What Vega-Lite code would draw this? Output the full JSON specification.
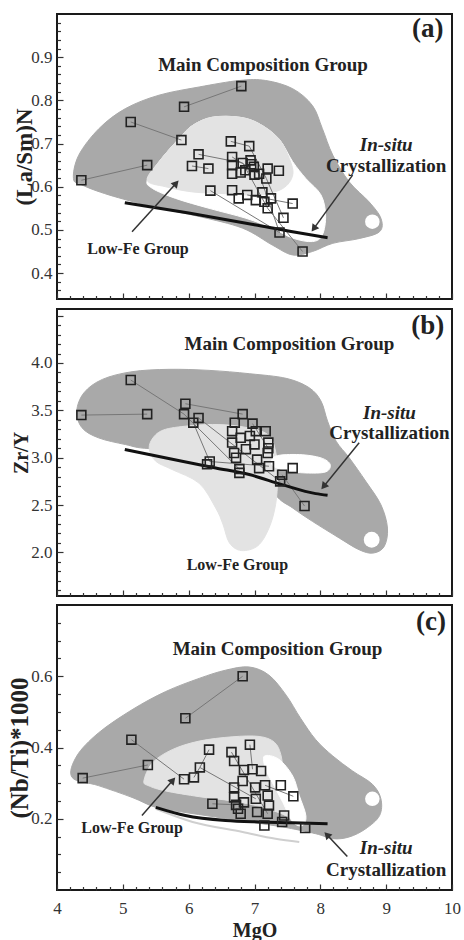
{
"$schema": "https://vega.github.io/schema/vega-lite/v6.json",
"background": "white",
"padding": {"left": 6, "top": 12, "right": 8, "bottom": 0},
"spacing": 4,
"datasets": {
"poly": [
{"p":"a","s":"main","i":1,"x":4.25,"y":0.619},{"p":"a","s":"main","i":2,"x":4.33,"y":0.673},{"p":"a","s":"main","i":3,"x":4.64,"y":0.735},{"p":"a","s":"main","i":4,"x":5.04,"y":0.781},{"p":"a","s":"main","i":5,"x":5.55,"y":0.812},{"p":"a","s":"main","i":6,"x":6.16,"y":0.831},{"p":"a","s":"main","i":7,"x":6.77,"y":0.846},{"p":"a","s":"main","i":8,"x":7.17,"y":0.846},{"p":"a","s":"main","i":9,"x":7.58,"y":0.827},{"p":"a","s":"main","i":10,"x":7.88,"y":0.788},{"p":"a","s":"main","i":11,"x":8.03,"y":0.735},{"p":"a","s":"main","i":12,"x":8.19,"y":0.673},{"p":"a","s":"main","i":13,"x":8.44,"y":0.611},{"p":"a","s":"main","i":14,"x":8.74,"y":0.565},{"p":"a","s":"main","i":15,"x":8.92,"y":0.527},{"p":"a","s":"main","i":16,"x":8.90,"y":0.496},{"p":"a","s":"main","i":17,"x":8.59,"y":0.480},{"p":"a","s":"main","i":18,"x":8.19,"y":0.469},{"p":"a","s":"main","i":19,"x":7.88,"y":0.450},{"p":"a","s":"main","i":20,"x":7.58,"y":0.442},{"p":"a","s":"main","i":21,"x":7.27,"y":0.465},{"p":"a","s":"main","i":22,"x":6.82,"y":0.504},{"p":"a","s":"main","i":23,"x":6.16,"y":0.531},{"p":"a","s":"main","i":24,"x":5.45,"y":0.554},{"p":"a","s":"main","i":25,"x":4.79,"y":0.581},{"p":"a","s":"main","i":26,"x":4.38,"y":0.604},
{"p":"a","s":"white","i":1,"x":5.37,"y":0.615},{"p":"a","s":"white","i":2,"x":5.55,"y":0.658},{"p":"a","s":"white","i":3,"x":5.85,"y":0.711},{"p":"a","s":"white","i":4,"x":6.06,"y":0.742},{"p":"a","s":"white","i":5,"x":6.36,"y":0.761},{"p":"a","s":"white","i":6,"x":6.77,"y":0.761},{"p":"a","s":"white","i":7,"x":7.07,"y":0.746},{"p":"a","s":"white","i":8,"x":7.37,"y":0.711},{"p":"a","s":"white","i":9,"x":7.58,"y":0.658},{"p":"a","s":"white","i":10,"x":7.78,"y":0.619},{"p":"a","s":"white","i":11,"x":8.01,"y":0.581},{"p":"a","s":"white","i":12,"x":8.08,"y":0.534},{"p":"a","s":"white","i":13,"x":8.03,"y":0.488},{"p":"a","s":"white","i":14,"x":7.88,"y":0.473},{"p":"a","s":"white","i":15,"x":7.58,"y":0.481},{"p":"a","s":"white","i":16,"x":7.27,"y":0.504},{"p":"a","s":"white","i":17,"x":6.87,"y":0.527},{"p":"a","s":"white","i":18,"x":6.31,"y":0.550},{"p":"a","s":"white","i":19,"x":5.80,"y":0.573},{"p":"a","s":"white","i":20,"x":5.45,"y":0.596},
{"p":"a","s":"light","i":1,"x":5.37,"y":0.615},{"p":"a","s":"light","i":2,"x":5.55,"y":0.658},{"p":"a","s":"light","i":3,"x":5.85,"y":0.711},{"p":"a","s":"light","i":4,"x":6.06,"y":0.742},{"p":"a","s":"light","i":5,"x":6.36,"y":0.761},{"p":"a","s":"light","i":6,"x":6.77,"y":0.761},{"p":"a","s":"light","i":7,"x":7.07,"y":0.746},{"p":"a","s":"light","i":8,"x":7.37,"y":0.711},{"p":"a","s":"light","i":9,"x":7.53,"y":0.665},{"p":"a","s":"light","i":10,"x":7.58,"y":0.627},{"p":"a","s":"light","i":11,"x":7.43,"y":0.596},{"p":"a","s":"light","i":12,"x":7.07,"y":0.581},{"p":"a","s":"light","i":13,"x":6.56,"y":0.584},{"p":"a","s":"light","i":14,"x":6.06,"y":0.588},{"p":"a","s":"light","i":15,"x":5.65,"y":0.600},
{"p":"b","s":"main","i":1,"x":4.30,"y":3.492},{"p":"b","s":"main","i":2,"x":4.41,"y":3.686},{"p":"b","s":"main","i":3,"x":4.69,"y":3.827},{"p":"b","s":"main","i":4,"x":5.14,"y":3.908},{"p":"b","s":"main","i":5,"x":5.70,"y":3.933},{"p":"b","s":"main","i":6,"x":6.31,"y":3.922},{"p":"b","s":"main","i":7,"x":6.92,"y":3.887},{"p":"b","s":"main","i":8,"x":7.48,"y":3.838},{"p":"b","s":"main","i":9,"x":7.83,"y":3.739},{"p":"b","s":"main","i":10,"x":8.01,"y":3.598},{"p":"b","s":"main","i":11,"x":8.11,"y":3.386},{"p":"b","s":"main","i":12,"x":8.24,"y":3.174},{"p":"b","s":"main","i":13,"x":8.44,"y":2.998},{"p":"b","s":"main","i":14,"x":8.69,"y":2.751},{"p":"b","s":"main","i":15,"x":8.92,"y":2.504},{"p":"b","s":"main","i":16,"x":9.02,"y":2.257},{"p":"b","s":"main","i":17,"x":8.97,"y":2.063},{"p":"b","s":"main","i":18,"x":8.80,"y":1.993},{"p":"b","s":"main","i":19,"x":8.59,"y":2.028},{"p":"b","s":"main","i":20,"x":8.29,"y":2.151},{"p":"b","s":"main","i":21,"x":7.88,"y":2.328},{"p":"b","s":"main","i":22,"x":7.58,"y":2.469},{"p":"b","s":"main","i":23,"x":7.32,"y":2.610},{"p":"b","s":"main","i":24,"x":7.07,"y":2.963},{"p":"b","s":"main","i":25,"x":6.31,"y":3.104},{"p":"b","s":"main","i":26,"x":5.40,"y":3.097},{"p":"b","s":"main","i":27,"x":5.04,"y":3.139},{"p":"b","s":"main","i":28,"x":4.63,"y":3.210},{"p":"b","s":"main","i":29,"x":4.38,"y":3.316},
{"p":"b","s":"light","i":1,"x":5.40,"y":3.097},{"p":"b","s":"light","i":2,"x":5.47,"y":3.22},{"p":"b","s":"light","i":3,"x":5.65,"y":3.30},{"p":"b","s":"light","i":4,"x":6.06,"y":3.34},{"p":"b","s":"light","i":5,"x":6.46,"y":3.35},{"p":"b","s":"light","i":6,"x":6.87,"y":3.32},{"p":"b","s":"light","i":7,"x":7.20,"y":3.245},{"p":"b","s":"light","i":8,"x":7.32,"y":3.069},{"p":"b","s":"light","i":9,"x":7.35,"y":2.786},{"p":"b","s":"light","i":10,"x":7.32,"y":2.504},{"p":"b","s":"light","i":11,"x":7.22,"y":2.257},{"p":"b","s":"light","i":12,"x":7.05,"y":2.07},{"p":"b","s":"light","i":13,"x":6.80,"y":2.02},{"p":"b","s":"light","i":14,"x":6.62,"y":2.10},{"p":"b","s":"light","i":15,"x":6.52,"y":2.30},{"p":"b","s":"light","i":16,"x":6.41,"y":2.47},{"p":"b","s":"light","i":17,"x":6.16,"y":2.73},{"p":"b","s":"light","i":18,"x":5.75,"y":2.875},{"p":"b","s":"light","i":19,"x":5.50,"y":2.963},
{"p":"b","s":"hole","i":1,"x":7.32,"y":3.016},{"p":"b","s":"hole","i":2,"x":7.68,"y":3.033},{"p":"b","s":"hole","i":3,"x":8.01,"y":2.998},{"p":"b","s":"hole","i":4,"x":8.15,"y":2.928},{"p":"b","s":"hole","i":5,"x":8.08,"y":2.850},{"p":"b","s":"hole","i":6,"x":7.78,"y":2.839},{"p":"b","s":"hole","i":7,"x":7.48,"y":2.864},{"p":"b","s":"hole","i":8,"x":7.27,"y":2.921},
{"p":"c","s":"main","i":1,"x":4.23,"y":0.316},{"p":"c","s":"main","i":2,"x":4.30,"y":0.376},{"p":"c","s":"main","i":3,"x":4.63,"y":0.441},{"p":"c","s":"main","i":4,"x":5.14,"y":0.506},{"p":"c","s":"main","i":5,"x":5.65,"y":0.557},{"p":"c","s":"main","i":6,"x":6.16,"y":0.594},{"p":"c","s":"main","i":7,"x":6.56,"y":0.617},{"p":"c","s":"main","i":8,"x":6.92,"y":0.626},{"p":"c","s":"main","i":9,"x":7.22,"y":0.603},{"p":"c","s":"main","i":10,"x":7.48,"y":0.547},{"p":"c","s":"main","i":11,"x":7.70,"y":0.482},{"p":"c","s":"main","i":12,"x":7.93,"y":0.422},{"p":"c","s":"main","i":13,"x":8.19,"y":0.376},{"p":"c","s":"main","i":14,"x":8.49,"y":0.334},{"p":"c","s":"main","i":15,"x":8.79,"y":0.297},{"p":"c","s":"main","i":16,"x":8.92,"y":0.256},{"p":"c","s":"main","i":17,"x":8.90,"y":0.209},{"p":"c","s":"main","i":18,"x":8.69,"y":0.172},{"p":"c","s":"main","i":19,"x":8.44,"y":0.149},{"p":"c","s":"main","i":20,"x":8.19,"y":0.144},{"p":"c","s":"main","i":21,"x":7.93,"y":0.158},{"p":"c","s":"main","i":22,"x":7.43,"y":0.177},{"p":"c","s":"main","i":23,"x":6.92,"y":0.191},{"p":"c","s":"main","i":24,"x":6.41,"y":0.205},{"p":"c","s":"main","i":25,"x":5.90,"y":0.219},{"p":"c","s":"main","i":26,"x":5.50,"y":0.232},{"p":"c","s":"main","i":27,"x":5.14,"y":0.260},{"p":"c","s":"main","i":28,"x":4.63,"y":0.293},
{"p":"c","s":"light","i":1,"x":5.32,"y":0.306},{"p":"c","s":"light","i":2,"x":5.45,"y":0.357},{"p":"c","s":"light","i":3,"x":5.75,"y":0.394},{"p":"c","s":"light","i":4,"x":6.16,"y":0.418},{"p":"c","s":"light","i":5,"x":6.66,"y":0.430},{"p":"c","s":"light","i":6,"x":7.07,"y":0.431},{"p":"c","s":"light","i":7,"x":7.30,"y":0.415},{"p":"c","s":"light","i":8,"x":7.40,"y":0.38},{"p":"c","s":"light","i":9,"x":7.45,"y":0.32},{"p":"c","s":"light","i":10,"x":7.55,"y":0.25},{"p":"c","s":"light","i":11,"x":7.60,"y":0.20},{"p":"c","s":"light","i":12,"x":7.40,"y":0.215},{"p":"c","s":"light","i":13,"x":7.07,"y":0.235},{"p":"c","s":"light","i":14,"x":6.66,"y":0.250},{"p":"c","s":"light","i":15,"x":6.16,"y":0.262},{"p":"c","s":"light","i":16,"x":5.65,"y":0.278},{"p":"c","s":"light","i":17,"x":5.40,"y":0.292},
{"p":"c","s":"hole","i":1,"x":7.15,"y":0.376},{"p":"c","s":"hole","i":2,"x":7.37,"y":0.367},{"p":"c","s":"hole","i":3,"x":7.58,"y":0.320},{"p":"c","s":"hole","i":4,"x":7.68,"y":0.265},{"p":"c","s":"hole","i":5,"x":7.78,"y":0.209},{"p":"c","s":"hole","i":6,"x":7.73,"y":0.181},{"p":"c","s":"hole","i":7,"x":7.58,"y":0.191},{"p":"c","s":"hole","i":8,"x":7.43,"y":0.246},{"p":"c","s":"hole","i":9,"x":7.27,"y":0.302},{"p":"c","s":"hole","i":10,"x":7.17,"y":0.339}
],
"dots": [{"p":"a","x":8.79,"y":0.519},{"p":"b","x":8.78,"y":2.134},{"p":"c","x":8.79,"y":0.256}],
"faint": [{"p":"c","i":1,"x":5.50,"y":0.228},{"p":"c","i":2,"x":6.06,"y":0.191},{"p":"c","i":3,"x":6.82,"y":0.163},{"p":"c","i":4,"x":7.32,"y":0.144},{"p":"c","i":5,"x":7.68,"y":0.135}],
"trend": [
{"p":"a","i":1,"x":5.03,"y":0.563},{"p":"a","i":2,"x":6.0,"y":0.539},{"p":"a","i":3,"x":7.0,"y":0.512},{"p":"a","i":4,"x":7.6,"y":0.495},{"p":"a","i":5,"x":8.11,"y":0.482},
{"p":"b","i":1,"x":5.03,"y":3.087},{"p":"b","i":2,"x":5.40,"y":3.034},{"p":"b","i":3,"x":5.90,"y":2.963},{"p":"b","i":4,"x":6.41,"y":2.892},{"p":"b","i":5,"x":6.92,"y":2.822},{"p":"b","i":6,"x":7.42,"y":2.716},{"p":"b","i":7,"x":7.93,"y":2.621},{"p":"b","i":8,"x":8.11,"y":2.603},
{"p":"c","i":1,"x":5.50,"y":0.232},{"p":"c","i":2,"x":5.95,"y":0.209},{"p":"c","i":3,"x":6.56,"y":0.195},{"p":"c","i":4,"x":7.07,"y":0.191},{"p":"c","i":5,"x":7.58,"y":0.189},{"p":"c","i":6,"x":8.11,"y":0.186}
],
"seg": [
{"p":"a","g":1,"i":1,"x":4.37,"y":0.615},{"p":"a","g":1,"i":2,"x":5.37,"y":0.650},
{"p":"a","g":2,"i":1,"x":5.12,"y":0.750},{"p":"a","g":2,"i":2,"x":5.89,"y":0.708},
{"p":"a","g":3,"i":1,"x":5.93,"y":0.785},{"p":"a","g":3,"i":2,"x":6.80,"y":0.833},
{"p":"a","g":4,"i":1,"x":6.64,"y":0.705},{"p":"a","g":4,"i":2,"x":6.92,"y":0.694},{"p":"a","g":4,"i":3,"x":7.18,"y":0.619},{"p":"a","g":4,"i":4,"x":7.44,"y":0.528},
{"p":"a","g":5,"i":1,"x":6.33,"y":0.591},{"p":"a","g":5,"i":2,"x":7.38,"y":0.494},
{"p":"a","g":6,"i":1,"x":6.15,"y":0.675},{"p":"a","g":6,"i":2,"x":6.82,"y":0.655},{"p":"a","g":6,"i":3,"x":7.20,"y":0.550},{"p":"a","g":6,"i":4,"x":7.73,"y":0.450},
{"p":"a","g":7,"i":1,"x":6.89,"y":0.581},{"p":"a","g":7,"i":2,"x":7.58,"y":0.561},
{"p":"a","g":8,"i":1,"x":6.05,"y":0.648},{"p":"a","g":8,"i":2,"x":6.30,"y":0.642},
{"p":"a","g":9,"i":1,"x":6.66,"y":0.669},{"p":"a","g":9,"i":2,"x":7.07,"y":0.630},{"p":"a","g":9,"i":3,"x":7.38,"y":0.494},
{"p":"b","g":1,"i":1,"x":4.37,"y":3.45},{"p":"b","g":1,"i":2,"x":5.37,"y":3.46},
{"p":"b","g":2,"i":1,"x":5.12,"y":3.82},{"p":"b","g":2,"i":2,"x":5.93,"y":3.46},{"p":"b","g":2,"i":3,"x":6.77,"y":2.88},
{"p":"b","g":3,"i":1,"x":5.95,"y":3.57},{"p":"b","g":3,"i":2,"x":6.82,"y":3.46},
{"p":"b","g":4,"i":1,"x":6.07,"y":3.37},{"p":"b","g":4,"i":2,"x":6.32,"y":2.96},{"p":"b","g":4,"i":3,"x":7.22,"y":2.91},
{"p":"b","g":5,"i":1,"x":6.15,"y":3.42},{"p":"b","g":5,"i":2,"x":7.39,"y":2.75},
{"p":"b","g":6,"i":1,"x":7.42,"y":2.82},{"p":"b","g":6,"i":2,"x":7.76,"y":2.49},
{"p":"b","g":7,"i":1,"x":6.97,"y":3.36},{"p":"b","g":7,"i":2,"x":7.21,"y":3.10},
{"p":"c","g":1,"i":1,"x":4.39,"y":0.314},{"p":"c","g":1,"i":2,"x":5.38,"y":0.351},
{"p":"c","g":2,"i":1,"x":5.95,"y":0.482},{"p":"c","g":2,"i":2,"x":6.82,"y":0.600},
{"p":"c","g":3,"i":1,"x":5.13,"y":0.422},{"p":"c","g":3,"i":2,"x":5.93,"y":0.311},
{"p":"c","g":4,"i":1,"x":6.08,"y":0.316},{"p":"c","g":4,"i":2,"x":6.17,"y":0.344},{"p":"c","g":4,"i":3,"x":6.31,"y":0.394},
{"p":"c","g":5,"i":1,"x":6.36,"y":0.242},{"p":"c","g":5,"i":2,"x":6.72,"y":0.239},
{"p":"c","g":6,"i":1,"x":6.65,"y":0.387},{"p":"c","g":6,"i":2,"x":7.20,"y":0.214},
{"p":"c","g":7,"i":1,"x":6.93,"y":0.408},{"p":"c","g":7,"i":2,"x":6.97,"y":0.339},
{"p":"c","g":8,"i":1,"x":7.16,"y":0.294},{"p":"c","g":8,"i":2,"x":7.59,"y":0.263},
{"p":"c","g":9,"i":1,"x":6.17,"y":0.344},{"p":"c","g":9,"i":2,"x":7.02,"y":0.256}
],
"pts": [
{"p":"a","x":4.37,"y":0.615},{"p":"a","x":5.37,"y":0.650},{"p":"a","x":5.12,"y":0.750},{"p":"a","x":5.93,"y":0.785},{"p":"a","x":6.80,"y":0.833},{"p":"a","x":5.89,"y":0.708},{"p":"a","x":6.64,"y":0.705},{"p":"a","x":6.92,"y":0.694},{"p":"a","x":6.15,"y":0.675},{"p":"a","x":6.05,"y":0.648},{"p":"a","x":6.30,"y":0.642},{"p":"a","x":6.66,"y":0.669},{"p":"a","x":6.66,"y":0.650},{"p":"a","x":6.66,"y":0.630},{"p":"a","x":6.82,"y":0.655},{"p":"a","x":6.94,"y":0.661},{"p":"a","x":6.99,"y":0.646},{"p":"a","x":7.07,"y":0.630},{"p":"a","x":7.20,"y":0.642},{"p":"a","x":7.18,"y":0.619},{"p":"a","x":7.37,"y":0.637},{"p":"a","x":6.79,"y":0.633},{"p":"a","x":6.33,"y":0.591},{"p":"a","x":6.66,"y":0.592},{"p":"a","x":6.76,"y":0.573},{"p":"a","x":6.89,"y":0.581},{"p":"a","x":7.02,"y":0.569},{"p":"a","x":7.12,"y":0.587},{"p":"a","x":7.15,"y":0.565},{"p":"a","x":7.25,"y":0.573},{"p":"a","x":7.20,"y":0.550},{"p":"a","x":7.58,"y":0.561},{"p":"a","x":7.44,"y":0.528},{"p":"a","x":7.38,"y":0.494},{"p":"a","x":7.73,"y":0.450},{"p":"a","x":6.95,"y":0.652},{"p":"a","x":6.86,"y":0.638},{"p":"a","x":7.00,"y":0.628},
{"p":"b","x":4.37,"y":3.45},{"p":"b","x":5.37,"y":3.46},{"p":"b","x":5.12,"y":3.82},{"p":"b","x":5.95,"y":3.57},{"p":"b","x":5.93,"y":3.46},{"p":"b","x":6.15,"y":3.42},{"p":"b","x":6.07,"y":3.37},{"p":"b","x":6.32,"y":2.96},{"p":"b","x":6.28,"y":2.93},{"p":"b","x":6.82,"y":3.46},{"p":"b","x":6.70,"y":3.37},{"p":"b","x":6.66,"y":3.28},{"p":"b","x":6.66,"y":3.16},{"p":"b","x":6.79,"y":3.21},{"p":"b","x":6.97,"y":3.36},{"p":"b","x":7.02,"y":3.28},{"p":"b","x":7.17,"y":3.28},{"p":"b","x":6.93,"y":3.23},{"p":"b","x":7.21,"y":3.16},{"p":"b","x":7.21,"y":3.10},{"p":"b","x":7.00,"y":3.14},{"p":"b","x":6.87,"y":3.09},{"p":"b","x":6.69,"y":3.05},{"p":"b","x":6.72,"y":3.00},{"p":"b","x":6.77,"y":2.88},{"p":"b","x":6.77,"y":2.84},{"p":"b","x":7.04,"y":2.98},{"p":"b","x":7.07,"y":2.89},{"p":"b","x":7.22,"y":2.91},{"p":"b","x":7.20,"y":3.05},{"p":"b","x":7.42,"y":2.82},{"p":"b","x":7.58,"y":2.89},{"p":"b","x":7.39,"y":2.75},{"p":"b","x":7.76,"y":2.49},
{"p":"c","x":4.39,"y":0.314},{"p":"c","x":5.38,"y":0.351},{"p":"c","x":5.13,"y":0.422},{"p":"c","x":5.95,"y":0.482},{"p":"c","x":6.82,"y":0.600},{"p":"c","x":6.31,"y":0.394},{"p":"c","x":6.93,"y":0.408},{"p":"c","x":6.65,"y":0.387},{"p":"c","x":6.69,"y":0.362},{"p":"c","x":6.84,"y":0.337},{"p":"c","x":6.97,"y":0.339},{"p":"c","x":7.10,"y":0.334},{"p":"c","x":6.17,"y":0.344},{"p":"c","x":6.08,"y":0.316},{"p":"c","x":5.93,"y":0.311},{"p":"c","x":6.36,"y":0.242},{"p":"c","x":6.82,"y":0.306},{"p":"c","x":7.01,"y":0.288},{"p":"c","x":7.16,"y":0.294},{"p":"c","x":7.40,"y":0.294},{"p":"c","x":7.59,"y":0.263},{"p":"c","x":6.69,"y":0.288},{"p":"c","x":6.69,"y":0.260},{"p":"c","x":6.72,"y":0.239},{"p":"c","x":6.84,"y":0.246},{"p":"c","x":7.02,"y":0.256},{"p":"c","x":7.20,"y":0.265},{"p":"c","x":7.22,"y":0.237},{"p":"c","x":7.04,"y":0.219},{"p":"c","x":6.79,"y":0.214},{"p":"c","x":7.20,"y":0.214},{"p":"c","x":7.45,"y":0.209},{"p":"c","x":7.42,"y":0.191},{"p":"c","x":7.15,"y":0.181},{"p":"c","x":7.77,"y":0.174},{"p":"c","x":6.75,"y":0.228}
],
"arr": [
{"p":"a","k":"low","x":5.81,"y":0.608,"x2":5.14,"y2":0.496},
{"p":"a","k":"ins","x":7.90,"y":0.503,"x2":8.49,"y2":0.627},
{"p":"b","k":"ins","x":8.05,"y":2.696,"x2":8.59,"y2":3.157},
{"p":"c","k":"low","x":5.76,"y":0.308,"x2":5.29,"y2":0.209},
{"p":"c","k":"ins","x":8.10,"y":0.155,"x2":8.41,"y2":0.094}
],
"txt": [
{"p":"a","r":"big","t":"Main Composition Group","x":7.13,"y":0.881},{"p":"a","r":"tag","t":"(a)","x":9.63,"y":0.965},{"p":"a","r":"ital","t":"In-situ","x":9.0,"y":0.696},{"p":"a","r":"big","t":"Crystallization","x":9.0,"y":0.648},{"p":"a","r":"low","t":"Low-Fe Group","x":5.23,"y":0.456},
{"p":"b","r":"big","t":"Main Composition Group","x":7.53,"y":4.198},{"p":"b","r":"tag","t":"(b)","x":9.63,"y":4.39},{"p":"b","r":"ital","t":"In-situ","x":9.05,"y":3.474},{"p":"b","r":"big","t":"Crystallization","x":9.05,"y":3.262},{"p":"b","r":"low","t":"Low-Fe Group","x":6.74,"y":1.870},
{"p":"c","r":"big","t":"Main Composition Group","x":7.35,"y":0.677},{"p":"c","r":"tag","t":"(c)","x":9.68,"y":0.752},{"p":"c","r":"ital","t":"In-situ","x":9.0,"y":0.117},{"p":"c","r":"big","t":"Crystallization","x":9.0,"y":0.056},{"p":"c","r":"low","t":"Low-Fe Group","x":5.14,"y":0.174}
]
},
"vconcat": [
{
"width": 395, "height": 285,
"encoding": {
"x": {"field":"x","type":"quantitative","scale":{"domain":[4,10],"nice":false,"zero":false},"axis":{"values":[4,4.2,4.4,4.6,4.8,5,5.2,5.4,5.6,5.8,6,6.2,6.4,6.6,6.8,7,7.2,7.4,7.6,7.8,8,8.2,8.4,8.6,8.8,9,9.2,9.4,9.6,9.8,10],"labels":false,"title":null,"tickSize":{"condition":{"test":"abs(datum.value-round(datum.value))<0.01","value":-6},"value":-3.5}}},
"y": {"field":"y","type":"quantitative","scale":{"domain":[0.34,1.0],"nice":false,"zero":false},"axis":{"values":[0.36,0.38,0.4,0.42,0.44,0.46,0.48,0.5,0.52,0.54,0.56,0.58,0.6,0.62,0.64,0.66,0.68,0.7,0.72,0.74,0.76,0.78,0.8,0.82,0.84,0.86,0.88,0.9,0.92,0.94,0.96,0.98],"labelExpr":"abs(datum.value*10-round(datum.value*10))<0.01 ? format(datum.value,'.1f') : ''","tickSize":{"condition":{"test":"abs(datum.value*10-round(datum.value*10))<0.01","value":-6},"value":-3.5},"labelPadding":11,"title":"(La/Sm)N","titleFontSize":23,"titleX":-33,"titleBaseline":"middle"}}
},
"layer": [
{"data":{"name":"poly"},"transform":[{"filter":"datum.p=='a' && datum.s=='main'"}],"mark":{"type":"line","interpolate":"cardinal-closed","fill":"#a9a9a9","stroke":"#a9a9a9","strokeWidth":1},"encoding":{"order":{"field":"i","type":"quantitative"}}},
{"data":{"name":"poly"},"transform":[{"filter":"datum.p=='a' && datum.s=='white'"}],"mark":{"type":"line","interpolate":"cardinal-closed","fill":"#ffffff","stroke":"#ffffff","strokeWidth":1},"encoding":{"order":{"field":"i","type":"quantitative"}}},
{"data":{"name":"poly"},"transform":[{"filter":"datum.p=='a' && datum.s=='light'"}],"mark":{"type":"line","interpolate":"cardinal-closed","fill":"#e3e3e3","stroke":"#e3e3e3","strokeWidth":1},"encoding":{"order":{"field":"i","type":"quantitative"}}},
{"data":{"name":"dots"},"transform":[{"filter":"datum.p=='a'"}],"mark":{"type":"circle","size":210,"color":"#ffffff","opacity":1}},
{"data":{"name":"seg"},"transform":[{"filter":"datum.p=='a'"}],"mark":{"type":"line","color":"#777777","strokeWidth":1},"encoding":{"detail":{"field":"g","type":"nominal"},"order":{"field":"i","type":"quantitative"}}},
{"data":{"name":"trend"},"transform":[{"filter":"datum.p=='a'"}],"mark":{"type":"line","interpolate":"monotone","color":"#111111","strokeWidth":3},"encoding":{"order":{"field":"i","type":"quantitative"}}},
{"data":{"name":"pts"},"transform":[{"filter":"datum.p=='a'"}],"mark":{"type":"square","filled":false,"size":80,"stroke":"#222222","strokeWidth":1.6,"opacity":1}},
{"data":{"name":"arr"},"transform":[{"filter":"datum.p=='a'"}],"mark":{"type":"rule","color":"#333333","strokeWidth":1.5},"encoding":{"x2":{"field":"x2"},"y2":{"field":"y2"}}},
{"data":{"name":"arr"},"transform":[{"filter":"datum.p=='a' && datum.k=='low'"}],"mark":{"type":"point","shape":"triangle-up","filled":true,"size":70,"color":"#333333","opacity":1,"angle":42}},
{"data":{"name":"arr"},"transform":[{"filter":"datum.p=='a' && datum.k=='ins'"}],"mark":{"type":"point","shape":"triangle-up","filled":true,"size":70,"color":"#333333","opacity":1,"angle":216}},
{"data":{"name":"txt"},"transform":[{"filter":"datum.p=='a' && datum.r=='big'"}],"mark":{"type":"text","font":"Liberation Serif","fontWeight":"bold","fontSize":19,"color":"#222222","align":"center","baseline":"middle"},"encoding":{"text":{"field":"t"}}},
{"data":{"name":"txt"},"transform":[{"filter":"datum.p=='a' && datum.r=='ital'"}],"mark":{"type":"text","font":"Liberation Serif","fontWeight":"bold","fontStyle":"italic","fontSize":19,"color":"#222222","align":"center","baseline":"middle"},"encoding":{"text":{"field":"t"}}},
{"data":{"name":"txt"},"transform":[{"filter":"datum.p=='a' && datum.r=='tag'"}],"mark":{"type":"text","font":"Liberation Serif","fontWeight":"bold","fontSize":27,"color":"#222222","align":"center","baseline":"middle"},"encoding":{"text":{"field":"t"}}},
{"data":{"name":"txt"},"transform":[{"filter":"datum.p=='a' && datum.r=='low'"}],"mark":{"type":"text","font":"Liberation Serif","fontWeight":"bold","fontSize":16,"color":"#222222","align":"center","baseline":"middle"},"encoding":{"text":{"field":"t"}}}
]
},
{
"width": 395, "height": 287,
"encoding": {
"x": {"field":"x","type":"quantitative","scale":{"domain":[4,10],"nice":false,"zero":false},"axis":{"values":[4,4.2,4.4,4.6,4.8,5,5.2,5.4,5.6,5.8,6,6.2,6.4,6.6,6.8,7,7.2,7.4,7.6,7.8,8,8.2,8.4,8.6,8.8,9,9.2,9.4,9.6,9.8,10],"labels":false,"title":null,"tickSize":{"condition":{"test":"abs(datum.value-round(datum.value))<0.01","value":-6},"value":-3.5}}},
"y": {"field":"y","type":"quantitative","scale":{"domain":[1.54,4.57],"nice":false,"zero":false},"axis":{"values":[1.6,1.7,1.8,1.9,2,2.1,2.2,2.3,2.4,2.5,2.6,2.7,2.8,2.9,3,3.1,3.2,3.3,3.4,3.5,3.6,3.7,3.8,3.9,4,4.1,4.2,4.3,4.4,4.5],"labelExpr":"abs(datum.value*2-round(datum.value*2))<0.01 && datum.value>1.9 && datum.value<4.1 ? format(datum.value,'.1f') : ''","tickSize":{"condition":{"test":"abs(datum.value*2-round(datum.value*2))<0.01","value":-6},"value":-3.5},"labelPadding":11,"title":"Zr/Y","titleFontSize":20,"titleX":-36,"titleBaseline":"middle"}}
},
"layer": [
{"data":{"name":"poly"},"transform":[{"filter":"datum.p=='b' && datum.s=='main'"}],"mark":{"type":"line","interpolate":"cardinal-closed","fill":"#a9a9a9","stroke":"#a9a9a9","strokeWidth":1},"encoding":{"order":{"field":"i","type":"quantitative"}}},
{"data":{"name":"poly"},"transform":[{"filter":"datum.p=='b' && datum.s=='light'"}],"mark":{"type":"line","interpolate":"cardinal-closed","fill":"#e3e3e3","stroke":"#e3e3e3","strokeWidth":1},"encoding":{"order":{"field":"i","type":"quantitative"}}},
{"data":{"name":"poly"},"transform":[{"filter":"datum.p=='b' && datum.s=='hole'"}],"mark":{"type":"line","interpolate":"cardinal-closed","fill":"#ffffff","stroke":"#ffffff","strokeWidth":1},"encoding":{"order":{"field":"i","type":"quantitative"}}},
{"data":{"name":"dots"},"transform":[{"filter":"datum.p=='b'"}],"mark":{"type":"circle","size":250,"color":"#ffffff","opacity":1}},
{"data":{"name":"seg"},"transform":[{"filter":"datum.p=='b'"}],"mark":{"type":"line","color":"#777777","strokeWidth":1},"encoding":{"detail":{"field":"g","type":"nominal"},"order":{"field":"i","type":"quantitative"}}},
{"data":{"name":"trend"},"transform":[{"filter":"datum.p=='b'"}],"mark":{"type":"line","interpolate":"monotone","color":"#111111","strokeWidth":3},"encoding":{"order":{"field":"i","type":"quantitative"}}},
{"data":{"name":"pts"},"transform":[{"filter":"datum.p=='b'"}],"mark":{"type":"square","filled":false,"size":80,"stroke":"#222222","strokeWidth":1.6,"opacity":1}},
{"data":{"name":"arr"},"transform":[{"filter":"datum.p=='b'"}],"mark":{"type":"rule","color":"#333333","strokeWidth":1.5},"encoding":{"x2":{"field":"x2"},"y2":{"field":"y2"}}},
{"data":{"name":"arr"},"transform":[{"filter":"datum.p=='b' && datum.k=='ins'"}],"mark":{"type":"point","shape":"triangle-up","filled":true,"size":70,"color":"#333333","opacity":1,"angle":219}},
{"data":{"name":"txt"},"transform":[{"filter":"datum.p=='b' && datum.r=='big'"}],"mark":{"type":"text","font":"Liberation Serif","fontWeight":"bold","fontSize":19,"color":"#222222","align":"center","baseline":"middle"},"encoding":{"text":{"field":"t"}}},
{"data":{"name":"txt"},"transform":[{"filter":"datum.p=='b' && datum.r=='ital'"}],"mark":{"type":"text","font":"Liberation Serif","fontWeight":"bold","fontStyle":"italic","fontSize":19,"color":"#222222","align":"center","baseline":"middle"},"encoding":{"text":{"field":"t"}}},
{"data":{"name":"txt"},"transform":[{"filter":"datum.p=='b' && datum.r=='tag'"}],"mark":{"type":"text","font":"Liberation Serif","fontWeight":"bold","fontSize":27,"color":"#222222","align":"center","baseline":"middle"},"encoding":{"text":{"field":"t"}}},
{"data":{"name":"txt"},"transform":[{"filter":"datum.p=='b' && datum.r=='low'"}],"mark":{"type":"text","font":"Liberation Serif","fontWeight":"bold","fontSize":16,"color":"#222222","align":"center","baseline":"middle"},"encoding":{"text":{"field":"t"}}}
]
},
{
"width": 395, "height": 285,
"encoding": {
"x": {"field":"x","type":"quantitative","scale":{"domain":[4,10],"nice":false,"zero":false},"axis":{"values":[4,4.2,4.4,4.6,4.8,5,5.2,5.4,5.6,5.8,6,6.2,6.4,6.6,6.8,7,7.2,7.4,7.6,7.8,8,8.2,8.4,8.6,8.8,9,9.2,9.4,9.6,9.8,10],"labelExpr":"abs(datum.value-round(datum.value))<0.01 ? format(datum.value,'d') : ''","tickSize":{"condition":{"test":"abs(datum.value-round(datum.value))<0.01","value":-6},"value":-3.5},"labelPadding":16,"title":"MgO","titleFontSize":20,"titleY":40,"titleBaseline":"middle"}},
"y": {"field":"y","type":"quantitative","scale":{"domain":[0,0.8],"nice":false,"zero":false},"axis":{"values":[0.05,0.1,0.15,0.2,0.25,0.3,0.35,0.4,0.45,0.5,0.55,0.6,0.65,0.7,0.75],"labelExpr":"abs(datum.value*5-round(datum.value*5))<0.01 && datum.value>0.1 && datum.value<0.7 ? format(datum.value,'.1f') : ''","tickSize":{"condition":{"test":"abs(datum.value*5-round(datum.value*5))<0.01","value":-6},"value":-3.5},"labelPadding":11,"title":"(Nb/Ti)*1000","titleFontSize":25,"titleX":-38,"titleBaseline":"middle"}}
},
"layer": [
{"data":{"name":"poly"},"transform":[{"filter":"datum.p=='c' && datum.s=='main'"}],"mark":{"type":"line","interpolate":"cardinal-closed","fill":"#a9a9a9","stroke":"#a9a9a9","strokeWidth":1},"encoding":{"order":{"field":"i","type":"quantitative"}}},
{"data":{"name":"poly"},"transform":[{"filter":"datum.p=='c' && datum.s=='light'"}],"mark":{"type":"line","interpolate":"cardinal-closed","fill":"#e3e3e3","stroke":"#e3e3e3","strokeWidth":1},"encoding":{"order":{"field":"i","type":"quantitative"}}},
{"data":{"name":"poly"},"transform":[{"filter":"datum.p=='c' && datum.s=='hole'"}],"mark":{"type":"line","interpolate":"cardinal-closed","fill":"#ffffff","stroke":"#ffffff","strokeWidth":1},"encoding":{"order":{"field":"i","type":"quantitative"}}},
{"data":{"name":"dots"},"transform":[{"filter":"datum.p=='c'"}],"mark":{"type":"circle","size":210,"color":"#ffffff","opacity":1}},
{"data":{"name":"faint"},"transform":[{"filter":"datum.p=='c'"}],"mark":{"type":"line","interpolate":"monotone","color":"#cfcfcf","strokeWidth":2},"encoding":{"order":{"field":"i","type":"quantitative"}}},
{"data":{"name":"seg"},"transform":[{"filter":"datum.p=='c'"}],"mark":{"type":"line","color":"#777777","strokeWidth":1},"encoding":{"detail":{"field":"g","type":"nominal"},"order":{"field":"i","type":"quantitative"}}},
{"data":{"name":"trend"},"transform":[{"filter":"datum.p=='c'"}],"mark":{"type":"line","interpolate":"monotone","color":"#111111","strokeWidth":3},"encoding":{"order":{"field":"i","type":"quantitative"}}},
{"data":{"name":"pts"},"transform":[{"filter":"datum.p=='c'"}],"mark":{"type":"square","filled":false,"size":80,"stroke":"#222222","strokeWidth":1.6,"opacity":1}},
{"data":{"name":"arr"},"transform":[{"filter":"datum.p=='c'"}],"mark":{"type":"rule","color":"#333333","strokeWidth":1.5},"encoding":{"x2":{"field":"x2"},"y2":{"field":"y2"}}},
{"data":{"name":"arr"},"transform":[{"filter":"datum.p=='c' && datum.k=='low'"}],"mark":{"type":"point","shape":"triangle-up","filled":true,"size":70,"color":"#333333","opacity":1,"angle":41}},
{"data":{"name":"arr"},"transform":[{"filter":"datum.p=='c' && datum.k=='ins'"}],"mark":{"type":"point","shape":"triangle-up","filled":true,"size":70,"color":"#333333","opacity":1,"angle":317}},
{"data":{"name":"txt"},"transform":[{"filter":"datum.p=='c' && datum.r=='big'"}],"mark":{"type":"text","font":"Liberation Serif","fontWeight":"bold","fontSize":19,"color":"#222222","align":"center","baseline":"middle"},"encoding":{"text":{"field":"t"}}},
{"data":{"name":"txt"},"transform":[{"filter":"datum.p=='c' && datum.r=='ital'"}],"mark":{"type":"text","font":"Liberation Serif","fontWeight":"bold","fontStyle":"italic","fontSize":19,"color":"#222222","align":"center","baseline":"middle"},"encoding":{"text":{"field":"t"}}},
{"data":{"name":"txt"},"transform":[{"filter":"datum.p=='c' && datum.r=='tag'"}],"mark":{"type":"text","font":"Liberation Serif","fontWeight":"bold","fontSize":27,"color":"#222222","align":"center","baseline":"middle"},"encoding":{"text":{"field":"t"}}},
{"data":{"name":"txt"},"transform":[{"filter":"datum.p=='c' && datum.r=='low'"}],"mark":{"type":"text","font":"Liberation Serif","fontWeight":"bold","fontSize":16,"color":"#222222","align":"center","baseline":"middle"},"encoding":{"text":{"field":"t"}}}
]
}
],
"config": {
"view": {"stroke": "#1a1a1a", "strokeWidth": 2},
"axis": {"domain": false, "grid": false, "labelFont": "Liberation Serif", "labelFontSize": 17, "labelColor": "#333333", "tickColor": "#333333", "tickWidth": 1.2, "titleFont": "Liberation Serif", "titleFontWeight": "bold", "titleColor": "#222222", "labelOverlap": false, "labelFlush": false, "labelBound": false}
}
}
